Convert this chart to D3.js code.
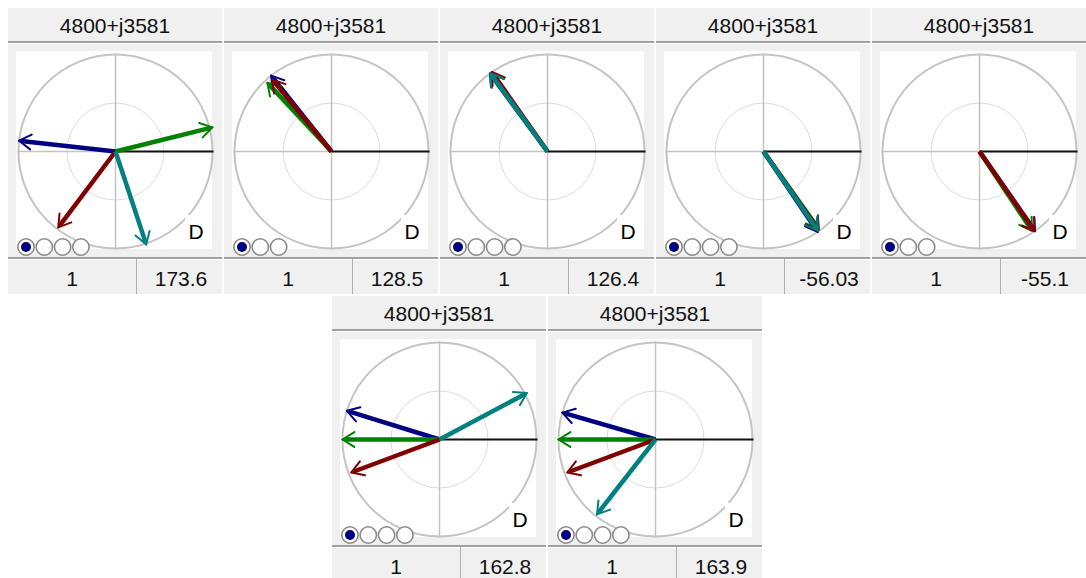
<!DOCTYPE html>
<html>
<head>
<meta charset="utf-8">
<script src="https://d3js.org/d3.v7.min.js"></script>
<style>
  body { margin: 0; background: #fff; }
  svg { display: block; font-family: "Liberation Sans", Arial, sans-serif; }
</style>
</head>
<body>
<div class="canvas"></div>
<script>
// panel data
var titles = ["4800+j3581", "4800+j3581", "4800+j3581", "4800+j3581", "4800+j3581", "4800+j3581", "4800+j3581"];
var modeNo = [1, 1, 1, 1, 1, 1, 1];
var values = ["173.6", "128.5", "126.4", "-56.03", "-55.1", "162.8", "163.9"];
var seriesNames = ["blue", "green", "red", "teal"];
var seriesColors = ["#000080", "#008000", "#800000", "#008080"];
// angle in degrees per panel, null = not present
var angBlue  = [173.6, 128.5, 126.4, -56.03, -55.1, 162.8, 163.9];
var angGreen = [14, 133, 126, -54.5, -56.5, 180, 180];
var angRed   = [233, 129.5, 125, -55, -55.3, 200.5, 200.5];
var angTeal  = [288.3, null, 126.2, -55.5, null, 28, 232];
// magnitudes
var magBlue  = [1, 1, 1, 1, 1, 1, 1];
var magGreen = [1.03, 0.97, 0.99, 0.98, 0.98, 1, 1];
var magRed   = [0.98, 0.96, 1, 0.99, 1, 0.97, 0.97];
var magTeal  = [1.01, null, 1, 0.99, null, 1.02, 0.98];

var angs = [angBlue, angGreen, angRed, angTeal];
var mags = [magBlue, magGreen, magRed, magTeal];

var origins = [[8, 8], [224, 8], [440, 8], [656, 8], [872, 8], [332, 296], [548, 296]];

var svg = d3.select(".canvas")
				.append("svg")
				.attr("width", 1086)
				.attr("height", 578);

var pw = 214, ph = 286;
var cx = 107.5, cy = 143.5, R = 97;
var rScale = d3.scaleLinear().domain([0, 1]).range([0, R]);

titles.forEach(function(t, i){
	var g = svg.append("g").attr("transform", "translate(" + origins[i][0] + "," + origins[i][1] + ")");

	// title band
	g.append("rect").attr("x", 0).attr("y", 0).attr("width", pw).attr("height", 33).attr("fill", "#f0f0f0");
	g.append("rect").attr("x", 0).attr("y", 33).attr("width", pw).attr("height", 2).attr("fill", "#a0a0a0");
	g.append("text")
		.attr("x", pw / 2).attr("y", 25)
		.attr("text-anchor", "middle")
		.attr("font-size", 21)
		.attr("fill", "#111")
		.text(t);

	// plot frame
	g.append("rect").attr("x", 0).attr("y", 36).attr("width", pw).attr("height", 213).attr("fill", "#f0f0f0");
	g.append("rect").attr("x", 8).attr("y", 43).attr("width", 196).attr("height", 198).attr("fill", "#fff");

	var p = g.append("g").attr("transform", "translate(" + cx + "," + cy + ")");

	// grid
	p.append("circle").attr("r", rScale(1)).attr("fill", "none").attr("stroke", "#c4c4c4").attr("stroke-width", 2);
	p.append("circle").attr("r", rScale(0.5)).attr("fill", "none").attr("stroke", "#dcdcdc").attr("stroke-width", 1);
	p.append("line").attr("x1", 0).attr("x2", 0).attr("y1", -rScale(1) - 1).attr("y2", rScale(1) + 1)
		.attr("stroke", "#c4c4c4").attr("stroke-width", 1.5);
	p.append("line").attr("x1", -rScale(1) - 1).attr("x2", 0).attr("y1", 0).attr("y2", 0)
		.attr("stroke", "#c4c4c4").attr("stroke-width", 1.5);
	p.append("line").attr("x1", 0).attr("x2", rScale(1) + 1).attr("y1", 0).attr("y2", 0)
		.attr("stroke", "#111").attr("stroke-width", 2);

	// D label with white box
	g.append("rect").attr("x", 177).attr("y", 207).attr("width", 27).attr("height", 34).attr("fill", "#fff");
	g.append("text")
		.attr("x", 188).attr("y", 231)
		.attr("text-anchor", "middle")
		.attr("font-size", 21)
		.attr("fill", "#000")
		.text("D");

	// arrows
	var count = 0;
	seriesNames.forEach(function(s, k){
		var a = angs[k][i], m = mags[k][i];
		if (a === null) return;
		count++;
		var rad = (90 - a) * Math.PI / 180;
		var tip = d3.pointRadial(rad, rScale(m));
		var shaftEnd = d3.pointRadial(rad, rScale(m) - 2);
		p.append("line")
			.attr("x1", 0).attr("y1", 0)
			.attr("x2", shaftEnd[0]).attr("y2", shaftEnd[1])
			.attr("stroke", seriesColors[k]).attr("stroke-width", 4.5);
		[32, -32].forEach(function(d){
			var back = d3.pointRadial((90 - (a + 180 + d)) * Math.PI / 180, 14);
			p.append("line")
				.attr("x1", tip[0]).attr("y1", tip[1])
				.attr("x2", tip[0] + back[0]).attr("y2", tip[1] + back[1])
				.attr("stroke", seriesColors[k]).attr("stroke-width", 2)
				.attr("stroke-linecap", "round");
		});
	});

	// radio buttons
	d3.range(count).forEach(function(j){
		g.append("circle")
			.attr("cx", 18 + j * 18.3).attr("cy", 239).attr("r", 8.2)
			.attr("fill", "#fff").attr("stroke", "#8a8a8a").attr("stroke-width", 1.6);
	});
	g.append("circle").attr("cx", 18).attr("cy", 239).attr("r", 5).attr("fill", "#000080");

	// bottom cells
	g.append("rect").attr("x", 0).attr("y", 249).attr("width", pw).attr("height", 2).attr("fill", "#a0a0a0");
	g.append("rect").attr("x", 0).attr("y", 252).attr("width", 128).attr("height", 34).attr("fill", "#f0f0f0");
	g.append("rect").attr("x", 129).attr("y", 252).attr("width", pw - 129).attr("height", 34).attr("fill", "#f0f0f0");
	g.append("line").attr("x1", 128.5).attr("x2", 128.5).attr("y1", 251).attr("y2", 286)
		.attr("stroke", "#b0b0b0").attr("stroke-width", 1);
	g.append("text")
		.attr("x", 64).attr("y", 278)
		.attr("text-anchor", "middle").attr("font-size", 21).attr("fill", "#111")
		.text(modeNo[i]);
	g.append("text")
		.attr("x", 173).attr("y", 278)
		.attr("text-anchor", "middle").attr("font-size", 21).attr("fill", "#111")
		.text(values[i]);
});
</script>
</body>
</html>
